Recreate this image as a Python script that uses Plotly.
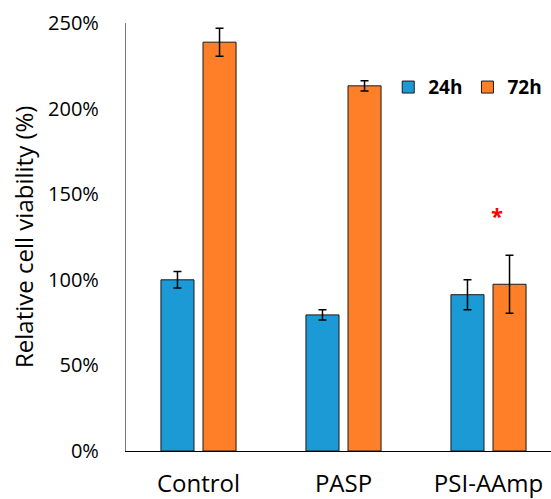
import plotly.graph_objects as go

categories = ["Control", "PASP", "PSI-AAmp"]
v24 = [100, 79.5, 91.3]
e24 = [4.8, 3.0, 8.8]
v72 = [238.8, 213.3, 97.4]
e72 = [8.2, 3.0, 17.0]
yticks = [0, 50, 100, 150, 200, 250]
ylabels = ["0%", "50%", "100%", "150%", "200%", "250%"]
ytitle = "Relative cell viability (%)"

blue = "#1C9AD6"
orange = "#FE7F27"
font = "Open Sans"

fig = go.Figure()
fig.add_trace(go.Bar(
    x=categories, y=v24, name="24h",
    marker=dict(color=blue, line=dict(color="#1a1a1a", width=1)),
    error_y=dict(type="data", array=e24, color="black", thickness=1.5, width=4),
))
fig.add_trace(go.Bar(
    x=categories, y=v72, name="72h",
    marker=dict(color=orange, line=dict(color="#1a1a1a", width=1)),
    error_y=dict(type="data", array=e72, color="black", thickness=1.5, width=4),
))

fig.add_annotation(x=2.062, y=138, xref="x", yref="y", text="<b>*</b>", showarrow=False,
                   font=dict(color="red", size=22, family=font))
fig.add_annotation(x=-0.2424, y=0.5, xref="paper", yref="paper", text=ytitle,
                   textangle=-90, showarrow=False, xanchor="center", yanchor="middle",
                   font=dict(size=24, family=font, color="black"))

fig.update_layout(
    width=551, height=499,
    margin=dict(l=126, r=0, t=23, b=48, autoexpand=False),
    plot_bgcolor="white", paper_bgcolor="white",
    barmode="group", bargap=0.42, bargroupgap=0.214,
    font=dict(family=font, size=19, color="black"),
    legend=dict(orientation="h", x=0.617, y=0.85, xanchor="left", yanchor="middle",
                font=dict(size=19, family=font, weight="bold"),
                itemwidth=30, tracegroupgap=0, bgcolor="rgba(0,0,0,0)"),
    showlegend=True,
)
fig.update_xaxes(range=[-0.5, 2.431], showline=True, linecolor="black", linewidth=1.2,
                 ticks="", tickfont=dict(size=24, family=font), showgrid=False,
                 automargin=False, ticklabelstandoff=11)
fig.update_yaxes(range=[0, 250], tickvals=yticks, ticktext=ylabels, showline=True,
                 linecolor="#777777", linewidth=1.2, showgrid=False, ticks="",
                 ticklabelstandoff=22, automargin=False,
                 tickfont=dict(size=20, family=font), zeroline=False)

fig.write_html("out.html")
